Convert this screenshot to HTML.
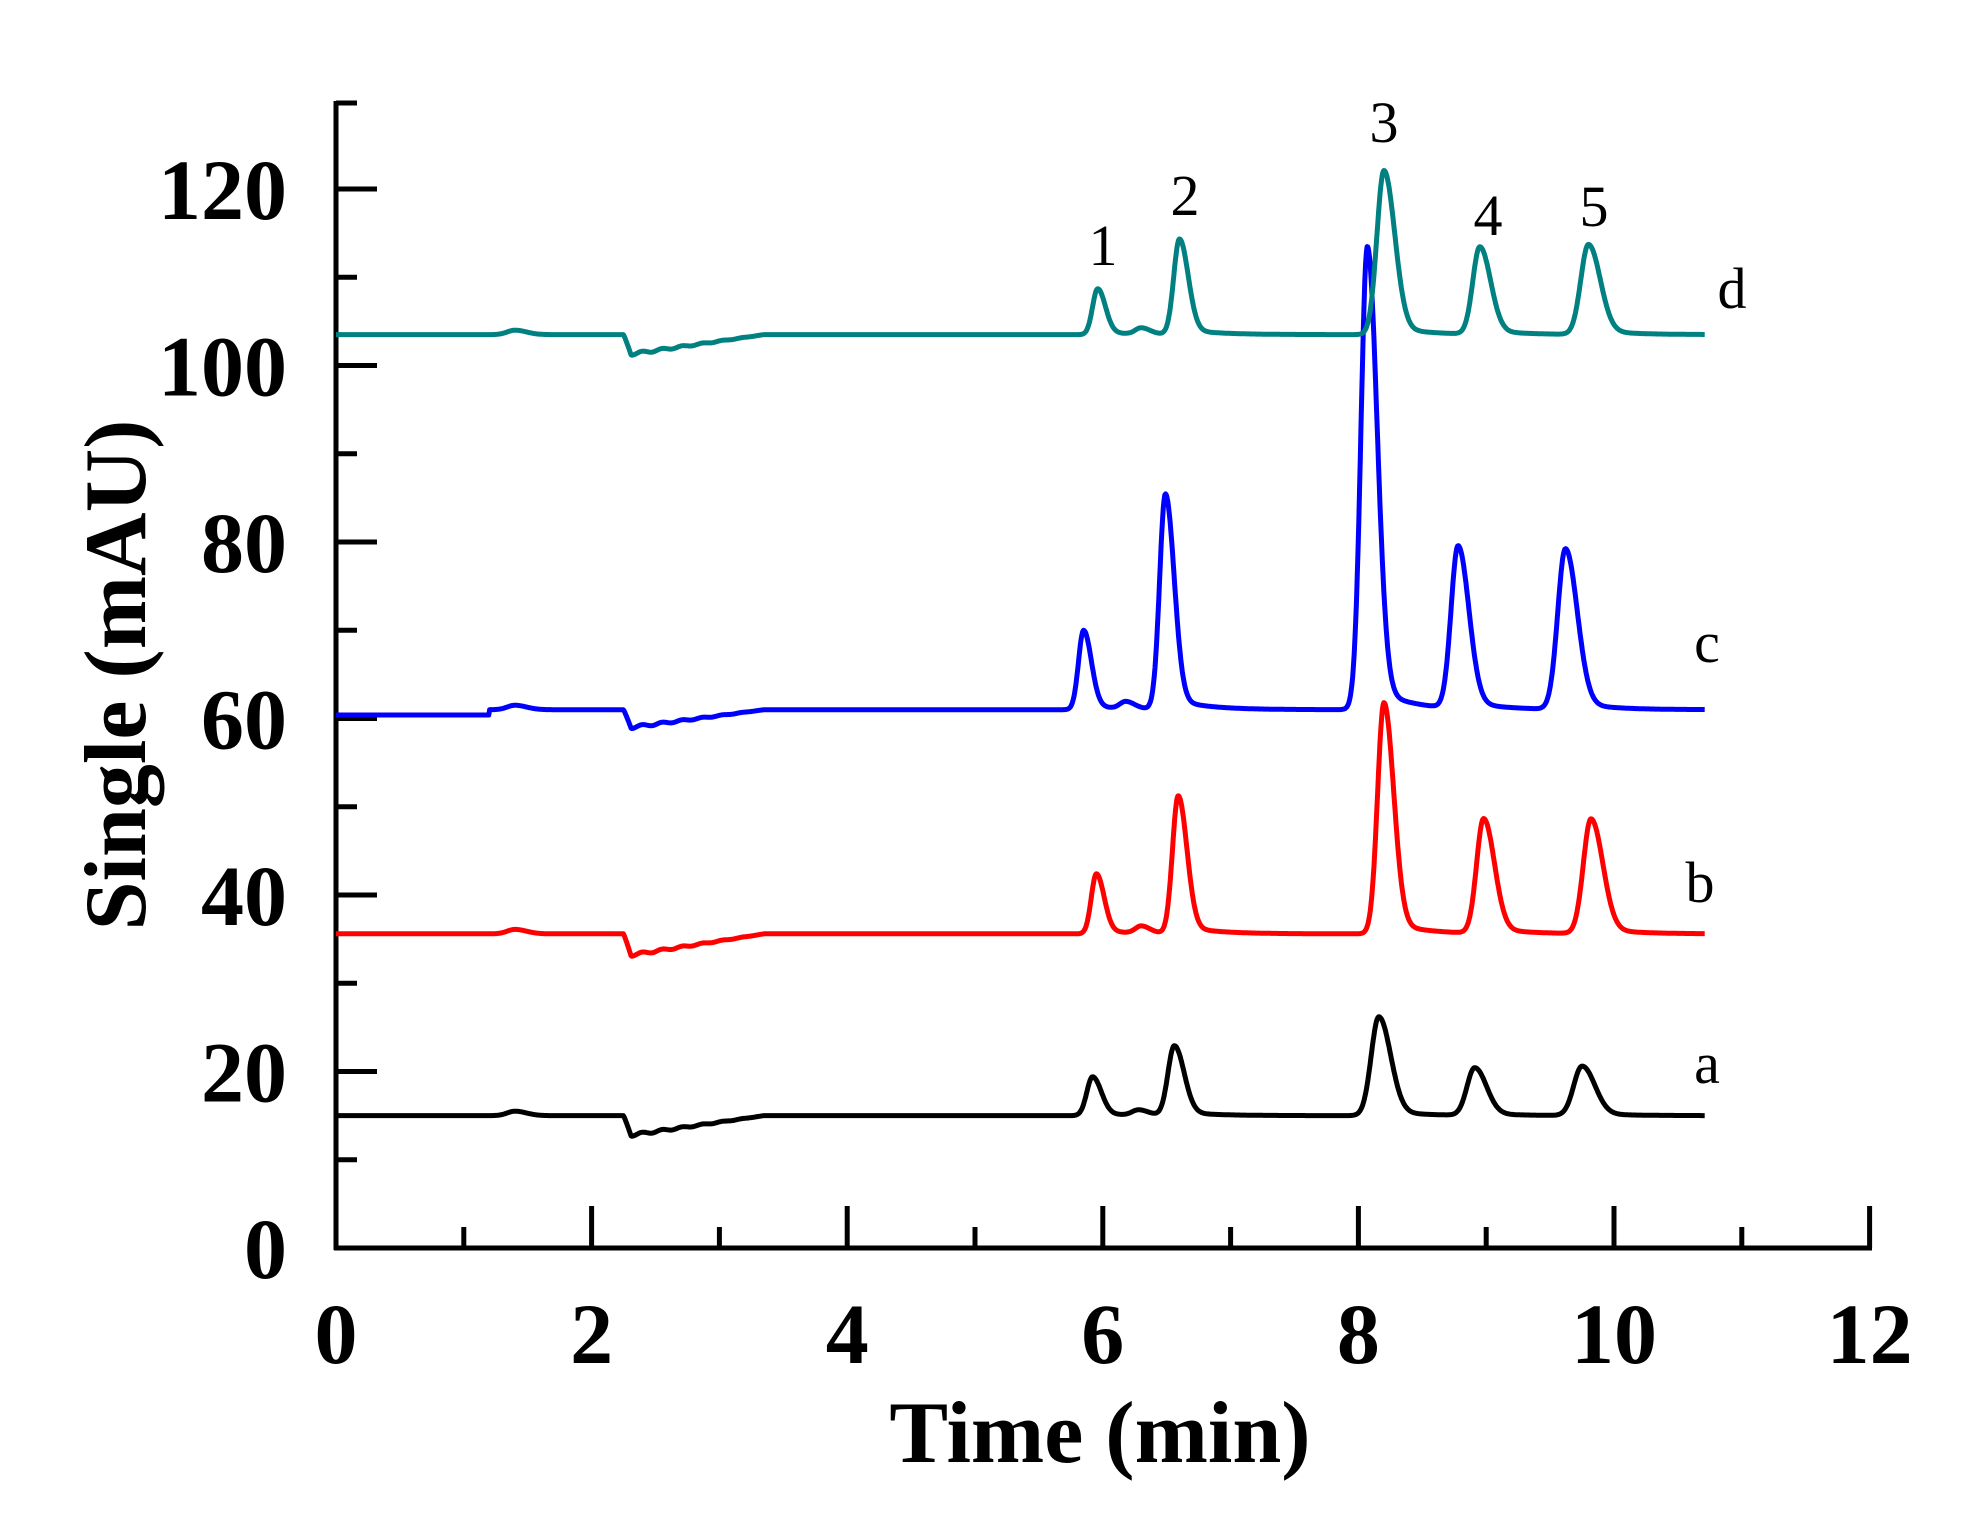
<!DOCTYPE html>
<html><head><meta charset="utf-8"><style>
html,body{margin:0;padding:0;background:#fff}
svg{display:block}
text{font-family:"Liberation Serif",serif}
</style></head><body>
<svg id="s" width="1972" height="1516" viewBox="0 0 1972 1516" xmlns="http://www.w3.org/2000/svg">
<g id="axes" stroke="#000" stroke-width="5" fill="none"></g>
<g id="series" fill="none" stroke-width="5" stroke-linejoin="round"></g>
<g font-weight="bold" font-size="86" text-anchor="end" id="ylab"></g>
<g font-weight="bold" font-size="86" text-anchor="middle" id="xlab"></g>
<text x="1100" y="1462" font-size="88" font-weight="bold" text-anchor="middle">Time (min)</text>
<text transform="translate(145,675) rotate(-90)" font-size="88" font-weight="bold" text-anchor="middle">Single (mAU)</text>
<g font-size="58" text-anchor="middle">
<text x="1103" y="265">1</text>
<text x="1185" y="215">2</text>
<text x="1384" y="142">3</text>
<text x="1488" y="235">4</text>
<text x="1594" y="226">5</text>
<text x="1707" y="1083">a</text>
<text x="1700" y="902">b</text>
<text x="1707" y="662">c</text>
<text x="1732" y="308">d</text>
</g>
</svg>
<script>
var NS="http://www.w3.org/2000/svg";
function X(t){return 336+t*127.8;}
function Y(v){return 1248-v*8.825;}
function el(p,tag,a,txt){var e=document.createElementNS(NS,tag);for(var k in a)e.setAttribute(k,a[k]);if(txt!==undefined)e.textContent=txt;document.getElementById(p).appendChild(e);}
el("axes","line",{x1:336,y1:101,x2:336,y2:1250});
el("axes","line",{x1:334,y1:1248,x2:1872,y2:1248});
el("axes","line",{x1:336,y1:103,x2:357,y2:103});
for(var v=0;v<=120;v+=10){var y=Y(v);var L=(v%20==0)?41:21;if(v>0)el("axes","line",{x1:336,y1:y,x2:336+L,y2:y});
 if(v%20==0)el("ylab","text",{x:287,y:y+30},String(v));}
for(var t=0;t<=12;t++){var x=X(t);var L=(t%2==0)?42:21;if(t>0)el("axes","line",{x1:x,y1:1248,x2:x,y2:1248-L});
 if(t%2==0)el("xlab","text",{x:x,y:1363},String(t));}
function pk(t,c,h,s,r){var d=t-c;var sg=d<0?s:s*r;return h*Math.exp(-d*d/(2*sg*sg));}
function tail(t,c,h,tau){if(t<=c)return 0;var d=t-c;return h*(1-Math.exp(-d*d/0.01))*Math.exp(-d/tau);}
function dist(t,amp){var v=0;
 v+=pk(t,1.4,0.5,0.06,1.5);
 if(t>2.25&&t<3.35){var f=(t<2.31)?(t-2.25)/0.06:1-(t-2.31)/1.04;v-=amp*f;
   v+=0.15*f*Math.sin(t*40);}
 return v;}
var S=[
 {col:"#000",b:15,pk:[[5.92,4.4,0.045],[6.28,0.6,0.05],[6.56,7.9,0.05],[8.16,11.2,0.06],[8.91,5.4,0.06],[9.75,5.6,0.065]],amp:2.2},
 {col:"#ff0000",b:35.6,pk:[[5.95,6.8,0.04],[6.3,0.8,0.045],[6.59,15.6,0.045],[8.2,26.2,0.05],[8.98,13.0,0.055],[9.82,13.0,0.06]],amp:2.4},
 {col:"#0000ff",b:61.0,pk:[[5.85,9.0,0.04],[6.18,0.8,0.045],[6.49,24.4,0.045],[8.07,52.5,0.05],[8.78,18.4,0.055],[9.62,18.2,0.06]],amp:2.0},
 {col:"#008080",b:103.5,pk:[[5.96,5.2,0.04],[6.3,0.7,0.045],[6.6,10.8,0.045],[8.2,18.6,0.055],[8.95,9.9,0.055],[9.8,10.2,0.06]],amp:2.2}
];
S.forEach(function(s){var d="";for(var i=0;i<=1800;i++){var t=i*10.71/1800;var v=s.b;
 if(s.col=="#0000ff"&&t<1.2)v-=0.6;
 v+=dist(t,s.amp);
 s.pk.forEach(function(p){v+=pk(t,p[0],p[1],p[2],1.5);v+=tail(t,p[0],p[1]*0.06,0.25);});
 d+=(i?"L":"M")+X(t).toFixed(1)+" "+Y(v).toFixed(1);}
 el("series","path",{d:d,stroke:s.col});});
</script>
</body></html>
